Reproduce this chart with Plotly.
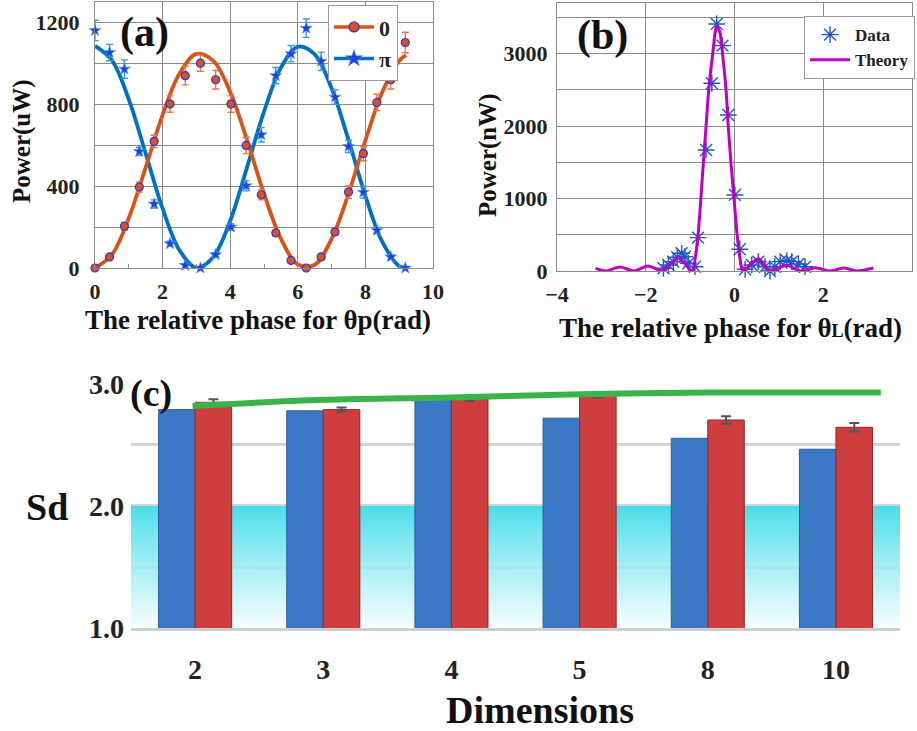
import plotly.graph_objects as go

# ---------------- Panel (a) data ----------------
phase_a = [0.00, 0.43, 0.87, 1.31, 1.75, 2.22, 2.67, 3.12, 3.57, 4.02, 4.47,
           4.92, 5.35, 5.80, 6.25, 6.69, 7.10, 7.50, 7.94, 8.34, 8.75, 9.18]
power_0 = [0, 54, 204, 396, 619, 801, 940, 1001, 920, 801, 599,
           358, 171, 37, 0, 54, 176, 371, 559, 809, 920, 1102]
err_0 = [5, 10, 20, 25, 30, 40, 45, 40, 45, 40, 40,
         25, 15, 10, 5, 10, 15, 30, 35, 40, 45, 50]
power_pi = [1161, 1053, 972, 570, 313, 119, 13, 0, 65, 200, 402,
            651, 940, 1047, 1172, 1010, 835, 594, 370, 184, 54, 0]
err_pi = [50, 40, 45, 20, 20, 12, 8, 5, 10, 15, 25,
          35, 40, 40, 45, 45, 35, 30, 30, 15, 10, 5]

fit_phase = [0, 0.5, 1.0, 1.5, 2.0, 2.5, 3.0, 3.5, 4.0, 4.5, 5.0, 5.5, 6.0,
             6.5, 7.0, 7.5, 8.0, 8.5, 9.0, 9.2]
fit_0 = [0, 65, 244, 492, 748, 950, 1046, 1012, 860, 624, 363, 143, 17,
         16, 142, 363, 623, 860, 1013, 1040]
fit_pi = [1085, 1015, 824, 559, 291, 87, 1, 54, 231, 493, 764, 979, 1081,
          1044, 878, 626, 352, 127, 9, 0]

# ---------------- Panel (b) data ----------------
phase_b = [-1.60, -1.49, -1.38, -1.29, -1.19, -1.12, -1.04, -0.89, -0.82,
           -0.64, -0.51, -0.40, -0.27, -0.14, 0.01, 0.12, 0.24, 0.39, 0.54,
           0.69, 0.80, 0.91, 1.03, 1.18, 1.29, 1.44, 1.59]
power_b = [37, 83, 129, 189, 244, 198, 106, 59, 460,
           1671, 2592, 3411, 3111, 2154, 1050, 300, 23, 83, 129,
           59, 0, 59, 129, 143, 129, 97, 59]
theory_phase = [-3.13, -2.90, -2.58, -2.26, -1.95, -1.61, -1.27, -0.95, -0.88,
                -0.82, -0.70, -0.64, -0.58, -0.49, -0.40, -0.33, -0.27, -0.19,
                -0.14, -0.08, -0.01, 0.06, 0.13, 0.19, 0.54, 0.80, 1.18, 1.48,
                1.82, 2.16, 2.46, 2.76, 3.13]
theory_b = [35, 0, 55, 0, 70, 0, 180, 0, 200,
            500, 1500, 2000, 2500, 3000, 3380, 3300, 3000, 2500,
            2000, 1500, 1000, 500, 150, 0, 170, 0, 80, 0,
            46, 0, 41, 0, 41]

# ---------------- Panel (c) data ----------------
dims = ["2", "3", "4", "5", "8", "10"]
sd_blue = [2.79, 2.78, 2.87, 2.72, 2.555, 2.465]
sd_red = [2.85, 2.79, 2.88, 2.91, 2.705, 2.645]
sd_red_err = [0.025, 0.018, 0.02, 0.02, 0.03, 0.035]
bound_pos = [-0.02, 1, 2, 3, 4, 5, 5.35]
bound_sd = [2.82, 2.87, 2.89, 2.915, 2.93, 2.93, 2.93]
band_lo, band_hi = 1.0, 2.0

SERIF = "Liberation Serif"
ORANGE = "#D95319"
BLUE = "#0072BD"
GRID = "#8a8a8a"

fig = go.Figure()

# ---- (a) ----
fig.add_trace(go.Scatter(x=fit_phase, y=fit_pi, mode="lines", line=dict(color=BLUE, width=3.8, shape="spline"),
                         showlegend=False, xaxis="x", yaxis="y"))
fig.add_trace(go.Scatter(x=fit_phase, y=fit_0, mode="lines", line=dict(color=ORANGE, width=3.8, shape="spline"),
                         showlegend=False, xaxis="x", yaxis="y"))
fig.add_trace(go.Scatter(x=phase_a, y=power_0, mode="markers",
                         marker=dict(symbol="circle", size=8, color=ORANGE, line=dict(color="#3030e8", width=1.2)),
                         error_y=dict(type="data", array=err_0, color="#E07a40", thickness=1.4, width=3.5),
                         showlegend=False, xaxis="x", yaxis="y", cliponaxis=False))
fig.add_trace(go.Scatter(x=phase_a, y=power_pi, mode="markers",
                         marker=dict(symbol="star", size=9, color="#2040e0", line=dict(color="#4a9fe0", width=0.6)),
                         error_y=dict(type="data", array=err_pi, color="#3a9ad8", thickness=1.4, width=3.5),
                         showlegend=False, xaxis="x", yaxis="y", cliponaxis=False))
# legend proxies
fig.add_trace(go.Scatter(x=[None], y=[None], mode="lines+markers", name="0",
                         line=dict(color=ORANGE, width=3.5),
                         marker=dict(symbol="circle", size=10, color=ORANGE, line=dict(color="#3030e8", width=1.2)),
                         xaxis="x", yaxis="y", legend="legend"))
fig.add_trace(go.Scatter(x=[None], y=[None], mode="lines+markers", name="π",
                         line=dict(color=BLUE, width=3.5),
                         marker=dict(symbol="star", size=13, color="#2040e0", line=dict(color="#4a9fe0", width=0.6)),
                         xaxis="x", yaxis="y", legend="legend"))

# ---- (b) ----
fig.add_trace(go.Scatter(x=phase_b, y=power_b, mode="markers", name="Data",
                         marker=dict(symbol="asterisk-open", size=14, color="#1f55c8",
                                     line=dict(color="#1f55c8", width=1.4)),
                         xaxis="x2", yaxis="y2", legend="legend2", cliponaxis=False))
fig.add_trace(go.Scatter(x=theory_phase, y=theory_b, mode="lines", name="Theory",
                         line=dict(color="#C000C0", width=3, shape="spline", smoothing=0.8),
                         xaxis="x2", yaxis="y2", legend="legend2", cliponaxis=False))

# ---- (c) ----
pos = list(range(len(dims)))
# background band on base subplot (x4/y4), bars overlay on x3/y3
fig.add_trace(go.Scatter(x=[-0.5, 5.5, 5.5, -0.5, -0.5], y=[band_lo, band_lo, band_hi, band_hi, band_lo],
                         mode="lines", line=dict(width=0), fill="toself",
                         fillgradient=dict(type="vertical",
                                           colorscale=[[0, "rgba(245,253,254,0.85)"], [0.5, "rgba(150,236,242,0.85)"],
                                                       [1, "rgba(58,219,231,0.92)"]]),
                         showlegend=False, hoverinfo="skip", xaxis="x4", yaxis="y4"))
fig.add_trace(go.Bar(x=pos, y=sd_blue, marker=dict(color="#3b78c6", line=dict(color="#2c5d9c", width=1)),
                     showlegend=False, xaxis="x3", yaxis="y3", offsetgroup="b"))
fig.add_trace(go.Bar(x=pos, y=sd_red, marker=dict(color="#cf3e3e", line=dict(color="#8e2a2a", width=1)),
                     error_y=dict(type="data", array=sd_red_err, color="#555555", thickness=2, width=5),
                     showlegend=False, xaxis="x3", yaxis="y3", offsetgroup="r"))
fig.add_trace(go.Scatter(x=bound_pos, y=bound_sd, mode="lines", line=dict(color="#3cb34a", width=6, shape="spline"),
                         showlegend=False, xaxis="x3", yaxis="y3", cliponaxis=False))

tickfont_a = dict(family=SERIF, size=22, color="#222", weight="bold")
dom_x3 = [0.1429, 0.9815]
dom_y3 = [0.1409, 0.4747]
fig.update_layout(
    width=917, height=731, margin=dict(l=0, r=0, t=0, b=0),
    paper_bgcolor="white", plot_bgcolor="white",
    barmode="group", bargap=0.43, bargroupgap=0,
    font=dict(family=SERIF, color="#222"),
    xaxis=dict(domain=[0.1036, 0.4722], anchor="y", range=[0, 10], dtick=2, showgrid=True, gridcolor=GRID,
               showline=True, linecolor=GRID, mirror=True, ticks="inside", ticklen=4, tickcolor=GRID,
               minor=dict(dtick=1, ticks="inside", ticklen=4, tickcolor=GRID, showgrid=False),
               tickfont=tickfont_a, zeroline=False, automargin=False, ticklabelstandoff=4),
    yaxis=dict(domain=[0.6334, 0.9973], anchor="x", range=[0, 1300], tickvals=[0, 400, 800, 1200],
               showgrid=True, gridcolor=GRID, showline=True, linecolor=GRID, mirror=True,
               ticks="inside", ticklen=4, tickcolor=GRID,
               minor=dict(dtick=200, showgrid=True, gridcolor=GRID, ticks="inside", ticklen=4, tickcolor=GRID),
               tickfont=tickfont_a, zeroline=False, automargin=False, ticklabelstandoff=10),
    xaxis2=dict(domain=[0.6074, 0.9945], anchor="y2", range=[-4, 4], dtick=2, showgrid=True, gridcolor=GRID,
                showline=True, linecolor=GRID, mirror=True, ticks="", tickfont=tickfont_a,
                zeroline=False, automargin=False, ticklabelstandoff=4),
    yaxis2=dict(domain=[0.6293, 0.9959], anchor="x2", range=[0, 3700], tickvals=[0, 1000, 2000, 3000],
                showgrid=True, gridcolor=GRID, showline=True, linecolor=GRID, mirror=True, ticks="",
                minor=dict(dtick=500, showgrid=True, gridcolor=GRID),
                tickfont=tickfont_a, zeroline=False, automargin=False, ticklabelstandoff=4),
    xaxis4=dict(domain=dom_x3, anchor="y4", range=[-0.5, 5.5], visible=False, showgrid=False,
                zeroline=False, automargin=False),
    yaxis4=dict(domain=dom_y3, anchor="x4", range=[1.0, 3.0], showticklabels=False, ticks="",
                showgrid=True, gridcolor="#d4d4d4", gridwidth=2.5, dtick=0.5, showline=False,
                zeroline=False, automargin=False),
    xaxis3=dict(domain=dom_x3, anchor="y3", overlaying="x4", range=[-0.5, 5.5], tickvals=pos, ticktext=dims,
                showgrid=False, showline=True, linecolor="#cfcfcf", linewidth=3, ticks="", zeroline=False,
                automargin=False,
                tickfont=dict(family=SERIF, size=28, color="#222", weight="bold"), ticklabelstandoff=14),
    yaxis3=dict(domain=dom_y3, anchor="x3", overlaying="y4", range=[1.0, 3.0], tickvals=[1, 2, 3],
                ticktext=["1.0", "2.0", "3.0"], showgrid=False,
                showline=False, ticks="", zeroline=False, automargin=False,
                tickfont=dict(family=SERIF, size=28, color="#222", weight="bold"), ticklabelstandoff=6),
    legend=dict(x=0.3577, y=0.993, xanchor="left", yanchor="top", bgcolor="white", bordercolor="#999",
                borderwidth=1, font=dict(family=SERIF, size=22, color="#222", weight="bold"),
                itemwidth=40, tracegroupgap=0),
    legend2=dict(x=0.8768, y=0.978, xanchor="left", yanchor="top", bgcolor="white", bordercolor="#999",
                 borderwidth=1, font=dict(family=SERIF, size=17, color="#222", weight="bold"),
                 itemwidth=40, tracegroupgap=0),
)

def ann(text, x, y, size, angle=0):
    fig.add_annotation(text=text, x=x, y=y, xref="paper", yref="paper", showarrow=False,
                       xanchor="center", yanchor="middle", textangle=angle,
                       font=dict(family=SERIF, size=size, color="#111", weight="bold"))

ann("The relative phase for θp(rad)", 258 / 917, 1 - 320 / 731, 27)
ann("Power(uW)", 22 / 917, 1 - 141 / 731, 25, -90)
ann("The relative phase for θ<span style='font-size:18px'>L</span>(rad)", 730 / 917, 1 - 328 / 731, 27)
ann("Power(nW)", 488 / 917, 1 - 155 / 731, 25, -90)
ann("Sd", 47 / 917, 1 - 507 / 731, 38)
ann("Dimensions", 540 / 917, 1 - 710 / 731, 38)
ann("(a)", 144 / 917, 1 - 32 / 731, 42)
ann("(b)", 602 / 917, 1 - 36 / 731, 42)
ann("(c)", 151 / 917, 1 - 393 / 731, 38)

fig.write_html("out.html")
